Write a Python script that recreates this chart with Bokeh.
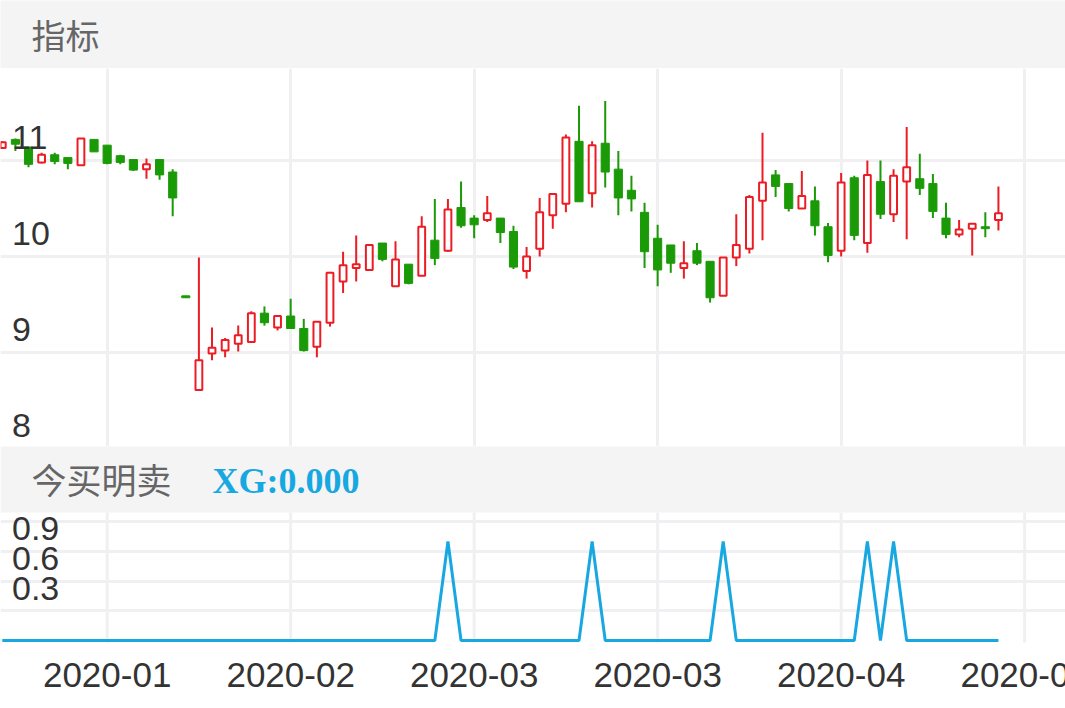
from bokeh.plotting import figure
from bokeh.layouts import column
from bokeh.models import Range1d, FixedTicker, ColumnDataSource, Grid
from bokeh.core.properties import value
from bokeh.embed import file_html
from bokeh.resources import INLINE

# ---------------- data ----------------
opens = [11.13, 11.22, 11.14, 10.98, 11.06, 11.03, 10.95, 11.22, 11.16, 11.05,
         11.01, 10.91, 11.01, 10.88, 9.59, 8.61, 8.99, 9.02, 9.09, 9.11,
         9.41, 9.26, 9.38, 9.25, 9.06, 9.31, 9.74, 9.88, 9.86, 10.14,
         9.69, 9.92, 9.80, 10.17, 10.06, 10.51, 10.40, 10.38, 10.40, 10.26,
         9.85, 10.08, 10.43, 10.55, 11.20, 10.66, 11.18, 10.91, 10.69, 10.46,
         10.19, 10.12, 9.88, 10.06, 9.95, 9.59, 9.99, 10.08, 10.58, 10.85,
         10.76, 10.50, 10.58, 10.31, 10.06, 10.82, 10.14, 10.78, 10.44, 10.78,
         10.81, 10.76, 10.40, 10.23, 10.29, 10.31, 10.38]
closes = [11.19, 11.17, 10.96, 11.06, 10.99, 10.97, 11.23, 11.09, 10.97, 10.98,
          10.90, 10.96, 10.85, 10.61, 9.57, 8.92, 9.05, 9.13, 9.18, 9.41,
          9.31, 9.38, 9.25, 9.02, 9.32, 9.83, 9.91, 9.92, 10.12, 9.97,
          9.97, 9.72, 10.31, 9.98, 10.49, 10.32, 10.33, 10.45, 10.25, 9.89,
          10.00, 10.46, 10.65, 11.24, 10.57, 11.16, 10.88, 10.61, 10.60, 10.05,
          9.86, 9.93, 9.93, 9.93, 9.57, 9.99, 10.12, 10.62, 10.77, 10.73,
          10.50, 10.63, 10.32, 10.01, 10.77, 10.22, 10.85, 10.44, 10.84, 10.93,
          10.71, 10.47, 10.23, 10.28, 10.34, 10.29, 10.45]
highs = [11.20, 11.23, 11.14, 11.08, 11.08, 11.03, 11.23, 11.22, 11.16, 11.06,
         11.01, 11.02, 11.01, 10.91, 9.59, 9.99, 9.26, 9.15, 9.28, 9.43,
         9.48, 9.38, 9.56, 9.35, 9.32, 9.84, 10.05, 10.22, 10.13, 10.14,
         10.16, 9.92, 10.42, 10.60, 10.60, 10.78, 10.43, 10.63, 10.40, 10.32,
         10.10, 10.61, 10.65, 11.27, 11.57, 11.20, 11.62, 11.10, 10.84, 10.56,
         10.33, 10.12, 10.16, 10.14, 9.95, 9.99, 10.44, 10.64, 11.29, 10.90,
         10.76, 10.89, 10.73, 10.35, 10.87, 10.84, 11.00, 11.00, 10.91, 11.35,
         11.07, 10.86, 10.56, 10.38, 10.34, 10.46, 10.73]
lows = [11.12, 11.10, 10.93, 10.97, 10.96, 10.91, 10.95, 11.09, 10.96, 10.96,
        10.89, 10.81, 10.80, 10.42, 9.57, 8.61, 8.92, 8.95, 9.01, 9.11,
        9.28, 9.23, 9.25, 9.01, 8.95, 9.27, 9.62, 9.74, 9.86, 9.95,
        9.69, 9.71, 9.80, 9.91, 10.05, 10.30, 10.19, 10.36, 10.14, 9.87,
        9.77, 10.00, 10.29, 10.46, 10.57, 10.51, 10.72, 10.43, 10.47, 9.88,
        9.69, 9.83, 9.77, 9.91, 9.52, 9.59, 9.90, 10.03, 10.17, 10.62,
        10.47, 10.50, 10.22, 9.94, 10.00, 10.17, 10.04, 10.39, 10.36, 10.18,
        10.64, 10.40, 10.19, 10.20, 10.01, 10.20, 10.27]
xg = [0, 0, 0, 0, 0, 0, 0, 0, 0, 0,
      0, 0, 0, 0, 0, 0, 0, 0, 0, 0,
      0, 0, 0, 0, 0, 0, 0, 0, 0, 0,
      0, 0, 0, 0, 1, 0, 0, 0, 0, 0,
      0, 0, 0, 0, 0, 1, 0, 0, 0, 0,
      0, 0, 0, 0, 0, 1, 0, 0, 0, 0,
      0, 0, 0, 0, 0, 0, 1, 0, 1, 0,
      0, 0, 0, 0, 0, 0, 0]
date_tick_index = [8, 22, 36, 50, 64, 78]
date_tick_labels = ["2020-01", "2020-02", "2020-03", "2020-03", "2020-04", "2020-05"]
price_ticks = [8, 9, 10, 11]
xg_grid_ticks = [0.3, 0.6, 0.9, 1.2]
xg_label_ticks = [0.3, 0.6, 0.9]
panel_title_1 = "指标"
panel_title_2 = "今买明卖"
xg_readout = "XG:0.000"

# ---------------- styling / geometry ----------------
W = 1065
RED = "#ec1c24"
GREEN = "#1b9a07"
BLUE = "#17a8e1"
BAND = "#f4f4f4"
GRIDC = "#f0f0f2"
TXT = "#333333"
GRAYTXT = "#666666"
NUM_FONT = value("Liberation Sans")
CJK_FONT = value("Noto Sans CJK SC")

SLOT = 13.107          # px per candle
FIRST = 1.8            # px of index 0
x_start = -FIRST / SLOT
x_end = x_start + W / SLOT
label_x = x_start + 11.5 / SLOT


def base_fig(h, xr, yr, **kw):
    p = figure(width=W, height=h, x_range=xr, y_range=yr,
               x_axis_type=None, y_axis_type=None,
               toolbar_location=None, output_backend="svg",
               min_border=0, min_border_left=0, min_border_right=0,
               min_border_top=0, min_border_bottom=0, **kw)
    p.outline_line_color = None
    return p


# ---------- header 1 ----------
H1 = 68
h1 = base_fig(H1, Range1d(0, W), Range1d(0, H1),
              background_fill_color=BAND, border_fill_color=BAND)
h1.text(x=[31], y=[H1 - 34], text=[panel_title_1], text_font=CJK_FONT,
        text_font_size="34px", text_color=GRAYTXT,
        text_baseline="middle", text_align="left")

# ---------- candle chart ----------
H2 = 378
PPU = 96.0
y_top = 10 + (256 - 68) / PPU
y_bot = y_top - H2 / PPU
pc = base_fig(H2, Range1d(x_start, x_end), Range1d(y_bot, y_top),
              background_fill_color="white", border_fill_color="white")
pc.add_layout(Grid(dimension=0, ticker=FixedTicker(ticks=date_tick_index),
                   grid_line_color=GRIDC, grid_line_width=3))
pc.add_layout(Grid(dimension=1, ticker=FixedTicker(ticks=price_ticks),
                   grid_line_color=GRIDC, grid_line_width=3))

up = dict(x=[], o=[], c=[], h=[], l=[], bt=[], bb=[])
dn = dict(x=[], o=[], c=[], h=[], l=[])
for i, (o, c, h, l) in enumerate(zip(opens, closes, highs, lows)):
    if c >= o:
        up["x"].append(i); up["o"].append(o); up["c"].append(c)
        up["h"].append(h); up["l"].append(l)
        up["bt"].append(max(o, c)); up["bb"].append(min(o, c))
    else:
        dn["x"].append(i); dn["o"].append(o); dn["c"].append(c)
        dn["h"].append(h); dn["l"].append(l)
su = ColumnDataSource(up)
sd = ColumnDataSource(dn)

pc.segment(x0="x", y0="h", x1="x", y1="bt", source=su, line_color=RED, line_width=2)
pc.segment(x0="x", y0="bb", x1="x", y1="l", source=su, line_color=RED, line_width=2)
pc.vbar(x="x", top="c", bottom="o", width=0.52, source=su,
        fill_color="white", line_color=RED, line_width=2)
pc.segment(x0="x", y0="h", x1="x", y1="l", source=sd, line_color=GREEN, line_width=2)
pc.vbar(x="x", top="o", bottom="c", width=0.62, source=sd,
        fill_color=GREEN, line_color=GREEN, line_width=1)

pc.text(x=[label_x] * len(price_ticks), y=[t + 23.5 / PPU for t in price_ticks],
        text=[str(t) for t in price_ticks], text_font=NUM_FONT,
        text_font_size="34px", text_color=TXT,
        text_baseline="middle", text_align="left")

# ---------- indicator panel (header band + XG line + date labels) ----------
H4 = 262               # page y 446 .. 708
XPPU = 99.0
ZERO_Y = 640 - 446     # px from panel top where XG = 0
xv = lambda px_from_top: (ZERO_Y - px_from_top) / XPPU   # panel px -> value
px = base_fig(H4, Range1d(x_start, x_end), Range1d(xv(H4), xv(0)),
              background_fill_color="white", border_fill_color="white")
px.add_layout(Grid(dimension=1, ticker=FixedTicker(ticks=xg_grid_ticks),
                   grid_line_color=GRIDC, grid_line_width=3))
px.segment(x0=date_tick_index, x1=date_tick_index,
           y0=[xv(ZERO_Y + 2)] * len(date_tick_index),
           y1=[xv(66)] * len(date_tick_index),
           line_color=GRIDC, line_width=3)
# header band
px.quad(left=[x_start], right=[x_end], bottom=[xv(66)], top=[xv(-2)],
        fill_color=BAND, line_color=None)
px.text(x=[x_start + 31 / SLOT], y=[xv(32)], text=[panel_title_2], text_font=CJK_FONT,
        text_font_size="35px", text_color=GRAYTXT,
        text_baseline="middle", text_align="left")
px.text(x=[x_start + 212 / SLOT], y=[xv(34)], text=[xg_readout],
        text_font=value("Liberation Serif"),
        text_font_style="bold", text_font_size="36px", text_color=BLUE,
        text_baseline="middle", text_align="left")

px.line(x=list(range(len(xg))), y=xg, line_color=BLUE, line_width=3)
px.text(x=[label_x] * len(xg_label_ticks), y=[t + 22.6 / XPPU for t in xg_label_ticks],
        text=[f"{t:.1f}" for t in xg_label_ticks], text_font=NUM_FONT,
        text_font_size="34px", text_color=TXT,
        text_baseline="middle", text_align="left")
# date labels (the last one runs off the right edge, as in the source chart)
px.text(x=date_tick_index, y=[xv(674.5 - 446)] * len(date_tick_index),
        text=date_tick_labels, text_font=NUM_FONT,
        text_font_size="35px", text_color=TXT,
        text_baseline="middle", text_align="center")

layout = column(h1, pc, px, spacing=0)
open("out.html", "w").write(file_html(layout, INLINE))
